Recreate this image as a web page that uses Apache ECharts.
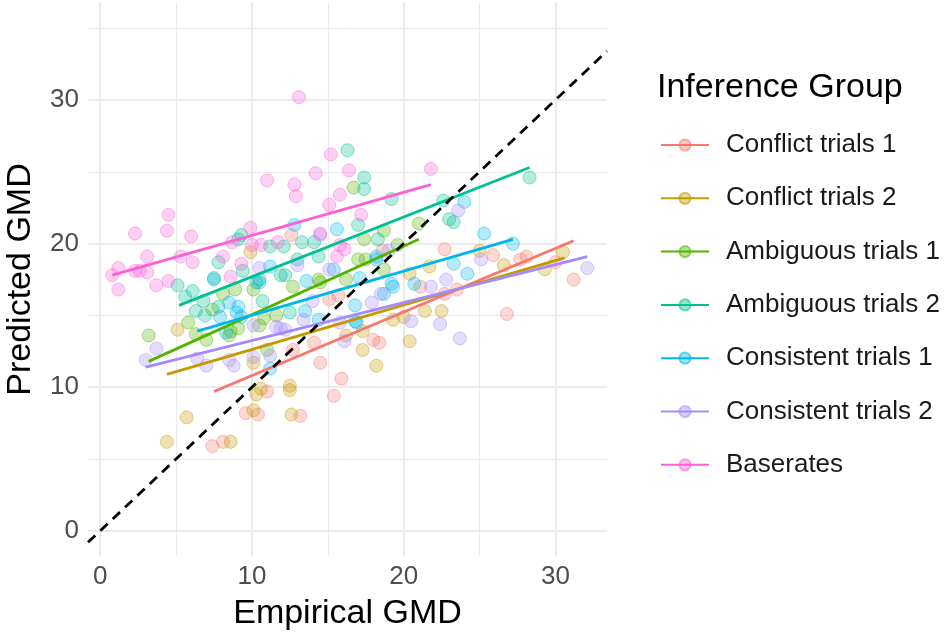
<!DOCTYPE html>
<html>
<head>
<meta charset="utf-8">
<script src="https://cdn.jsdelivr.net/npm/echarts@6/dist/echarts.min.js"></script>
<style>html,body{margin:0;padding:0;background:#fff}#chart{width:950px;height:637px}</style>
</head>
<body>
<div id="chart"></div>
<script>
// ---------- data ----------
const groupNames = ['Conflict trials 1','Conflict trials 2','Ambiguous trials 1','Ambiguous trials 2','Consistent trials 1','Consistent trials 2','Baserates'];
const groupColors = ['#F8766D','#C49A00','#53B400','#00C094','#00B6EB','#A58AFF','#FB61D7'];

const conflict1Pts = [[31.2,17.5],[26.8,15.1],[30.0,18.7],[28.1,19.1],[25.9,19.2],[22.7,16.5],[23.5,16.8],[21.1,17.0],[18.0,13.3],[18.4,13.1],[15.9,10.6],[22.7,19.6],[18.6,19.5],[27.7,18.9],[15.1,16.1],[15.7,16.4],[14.1,13.1],[14.5,11.7],[12.7,12.6],[15.4,9.4],[13.2,8.0],[10.4,8.1],[9.6,8.2],[11.0,9.7],[7.4,5.9],[8.1,6.2],[12.6,20.6]];
const conflict2Pts = [[30.5,19.4],[29.3,18.2],[25.0,19.5],[26.6,18.5],[21.7,18.4],[20.4,17.9],[21.4,15.3],[22.5,15.3],[19.3,14.7],[20.0,14.9],[17.3,13.9],[20.4,13.2],[17.3,12.6],[18.2,11.5],[16.2,13.6],[12.5,10.1],[5.1,14.0],[5.7,7.9],[4.4,6.2],[8.6,6.2],[10.3,9.5],[10.1,8.4],[12.6,8.1],[12.5,9.8],[10.1,11.7],[10.6,9.9],[9.9,19.4]];
const ambiguous1Pts = [[16.7,23.9],[21.0,21.4],[18.7,20.9],[17.4,20.3],[19.6,19.9],[17.0,18.9],[17.5,18.9],[18.7,18.2],[16.2,17.5],[14.4,17.5],[12.7,17.0],[8.1,16.5],[8.9,16.8],[10.1,16.8],[7.4,15.4],[5.8,14.5],[10.8,14.8],[6.3,13.7],[7.0,13.3],[3.2,13.6],[11.6,15.0],[14.5,17.3],[10.5,14.3],[8.6,13.9],[8.5,13.6],[9.1,14.1],[11.0,12.6]];
const ambiguous2Pts = [[16.3,26.5],[17.4,24.6],[17.4,23.8],[28.3,24.6],[22.6,23.0],[23.0,21.7],[23.3,21.5],[17.0,21.3],[18.3,20.3],[19.2,23.1],[9.1,20.3],[11.2,19.8],[12.1,19.8],[13.3,20.1],[14.1,20.1],[14.4,19.1],[5.1,17.1],[6.1,16.7],[5.6,16.3],[6.8,16.0],[7.8,18.7],[7.5,17.6],[9.4,18.1],[6.3,15.3],[6.9,15.0],[7.8,15.6],[9.3,20.6],[10.7,16.0],[11.9,17.8],[10.3,17.3],[10.5,17.5],[13.0,18.9],[12.2,17.8],[12.5,15.2]];
const consistent1Pts = [[24.0,22.9],[25.3,20.7],[27.2,20.0],[23.3,18.6],[20.7,17.2],[19.2,17.2],[18.7,16.5],[16.8,14.6],[18.2,19.1],[24.2,17.9],[15.6,21.0],[12.8,21.3],[18.2,18.9],[13.6,17.4],[17.1,17.6],[13.5,15.3],[14.4,14.7],[16.9,14.5],[16.8,15.7],[19.3,17.0],[7.5,17.5],[8.5,15.9],[9.1,15.6],[7.9,14.9],[9.3,14.9],[10.5,17.3],[11.2,18.4],[8.3,13.8],[9.0,15.2],[11.2,11.3],[15.4,18.2]];
const consistent2Pts = [[32.1,18.3],[25.1,18.9],[22.8,17.5],[21.8,17.0],[17.9,15.9],[18.5,16.5],[20.5,14.6],[22.4,14.4],[23.7,13.4],[16.1,13.2],[15.8,14.5],[14.0,16.0],[13.4,14.7],[11.9,14.1],[3.0,11.9],[3.7,12.7],[7.0,11.5],[6.4,12.0],[8.8,11.5],[8.5,11.9],[11.2,12.2],[12.2,14.0],[10.1,12.1],[10.5,18.3],[10.1,14.3],[11.6,14.2],[14.5,20.6],[13.0,18.5],[15.1,18.2],[23.6,22.3],[19.0,19.5]];
const baseratesPts = [[13.1,30.2],[15.2,26.2],[14.2,24.9],[11.0,24.4],[12.8,24.1],[12.9,23.3],[15.8,23.4],[15.1,22.7],[16.4,25.1],[21.8,25.2],[17.2,22.0],[16.1,19.6],[4.5,22.0],[4.4,20.9],[2.3,20.7],[6.0,20.5],[9.9,21.1],[14.5,20.7],[8.7,20.1],[3.1,19.1],[8.1,19.1],[10.0,19.9],[10.6,19.9],[11.7,20.1],[15.8,19.9],[15.6,19.1],[5.3,19.1],[6.1,18.7],[1.2,18.3],[0.8,17.8],[2.3,18.1],[2.6,18.1],[3.1,18.0],[1.2,16.8],[3.7,17.1],[4.5,17.4],[8.6,17.7],[9.3,18.6]];

// fitted regression lines (start, end)
const conflict1Fit = [[7.5,9.7],[31.2,20.2]];
const conflict2Fit = [[4.4,10.9],[30.6,19.0]];
const ambiguous1Fit = [[3.2,11.8],[21.0,20.3]];
const ambiguous2Fit = [[5.2,15.7],[28.3,25.3]];
const consistent1Fit = [[6.4,13.9],[27.2,20.3]];
const consistent2Fit = [[3.0,11.4],[32.1,19.1]];
const baseratesFit = [[0.8,17.8],[21.8,24.1]];

const identityLine = [[-0.8,-0.8],[33.4,33.4]];

const xMajorTicks = [0,10,20,30];
const xMinorTicks = [5,15,25];
const yMajorTicks = [0,10,20,30];
const yMinorTicks = [5,15,25,35];
const xRange = [-0.8, 33.4];
const yRange = [-1.75, 36.75];

// ---------- chart ----------
const pointSets = [conflict1Pts, conflict2Pts, ambiguous1Pts, ambiguous2Pts, consistent1Pts, consistent2Pts, baseratesPts];
const fitSets = [conflict1Fit, conflict2Fit, ambiguous1Fit, ambiguous2Fit, consistent1Fit, consistent2Fit, baseratesFit];

function rgba(hex, a){
  const n = parseInt(hex.slice(1),16);
  return 'rgba(' + ((n>>16)&255) + ',' + ((n>>8)&255) + ',' + (n&255) + ',' + a + ')';
}
const FONT = 'Liberation Sans, Arial, sans-serif';

const series = [];
groupNames.forEach((name,i)=>{
  series.push({
    name: name, type: 'line', data: fitSets[i], xAxisIndex: 1, yAxisIndex: 1,
    symbol: 'circle', symbolSize: 14, showSymbol: false, z: 5,
    lineStyle: {color: groupColors[i], width: 2.8},
    itemStyle: {color: rgba(groupColors[i],0.4), borderColor: rgba(groupColors[i],0.55), borderWidth: 1},
    emphasis: {disabled: true}, silent: true, animation: false
  });
});
groupNames.forEach((name,i)=>{
  series.push({
    name: name, type: 'scatter', data: pointSets[i], xAxisIndex: 1, yAxisIndex: 1,
    symbol: 'circle', symbolSize: 13, z: 3,
    itemStyle: {color: rgba(groupColors[i],0.37), borderColor: rgba(groupColors[i],0.55), borderWidth: 1},
    emphasis: {disabled: true}, silent: true, animation: false
  });
});
series.push({
  name: 'identity', type: 'line', data: identityLine, xAxisIndex: 1, yAxisIndex: 1, showSymbol: false, symbol: 'none', z: 6,
  lineStyle: {color: '#000', width: 2.8, type: [10, 7]}, silent: true, animation: false
});

function makeAxis(dim, ticks, range, major){
  const a = {
    type: 'value', min: range[0], max: range[1], gridIndex: 0,
    position: dim==='x' ? 'bottom' : 'left',
    offset: 0,
    axisLine: {show: false},
    axisTick: {show: false, customValues: ticks},
    splitLine: {show: true, lineStyle: {color: '#EBEBEB', width: major ? 2 : 1}},
    axisLabel: major ? {show: true, customValues: ticks, color: '#4D4D4D', fontSize: 26, fontFamily: FONT, margin: dim==='x' ? 8 : 9} : {show: false},
    z: 0
  };
  if (major){
    a.name = dim==='x' ? 'Empirical GMD' : 'Predicted GMD';
    a.nameLocation = 'middle';
    a.nameGap = dim==='x' ? 41 : 50;
    a.nameTextStyle = {color: '#000', fontSize: 34, fontFamily: FONT};
  }
  return a;
}

const chart = echarts.init(document.getElementById('chart'), null, {renderer: 'canvas'});
chart.setOption({
  backgroundColor: '#fff',
  animation: false,
  grid: {left: 88, right: 343, top: 3, bottom: 81, containLabel: false, outerBoundsMode: 'none'},
  xAxis: [makeAxis('x', xMinorTicks, xRange, false), makeAxis('x', xMajorTicks, xRange, true)],
  yAxis: [makeAxis('y', yMinorTicks, yRange, false), makeAxis('y', yMajorTicks, yRange, true)],
  title: {text: 'Inference Group', left: 657, top: 71, padding: 0, textStyle: {fontSize: 34, fontWeight: 'normal', color: '#000', fontFamily: FONT}},
  legend: {
    data: groupNames, orient: 'vertical', left: 655, top: 127,
    itemWidth: 48, itemHeight: 14, itemGap: 27.3,
    textStyle: {fontSize: 26, color: '#1A1A1A', fontFamily: FONT, padding: [0,0,0,12]},
    selectedMode: false
  },
  series: series
});
</script>
</body>
</html>
